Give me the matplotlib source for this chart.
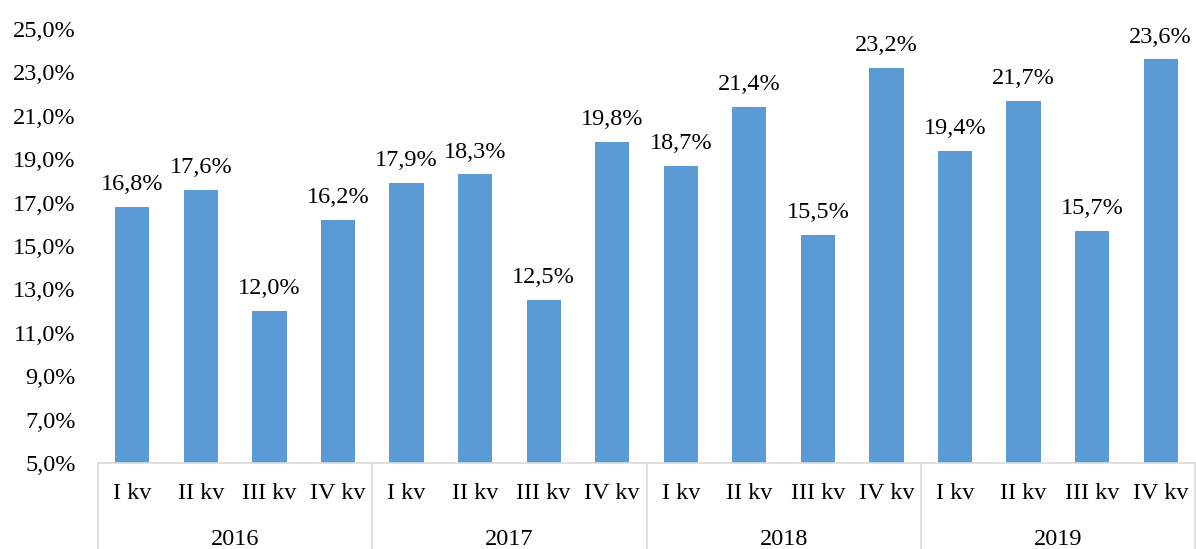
import matplotlib
matplotlib.use("Agg")
import matplotlib.pyplot as plt
from matplotlib.ticker import FuncFormatter

years = ["2016", "2017", "2018", "2019"]
quarters = ["I kv", "II kv", "III kv", "IV kv"]
values = [16.8, 17.6, 12.0, 16.2,
          17.9, 18.3, 12.5, 19.8,
          18.7, 21.4, 15.5, 23.2,
          19.4, 21.7, 15.7, 23.6]

plt.rcParams['font.family'] = ['Liberation Serif', 'DejaVu Serif']
FS = 17.5
bar_color = "#5B9BD5"
grid_color = "#D9D9D9"

fig = plt.figure(figsize=(11.96, 5.49), dpi=100)
ax = fig.add_axes([98/1196, 1 - 463/549, 1 - 98/1196 - 1/1196, (463 - 29)/549])

n = len(values)
x = list(range(n))
ax.bar(x, [v - 5.0 for v in values], bottom=5.0, width=0.5, color=bar_color, zorder=2)
for xi, v in zip(x, values):
    ax.annotate(f"{v:.1f}%".replace(".", ","), (xi, v), xytext=(0, 8.5),
                textcoords="offset points", ha="center", va="bottom",
                fontsize=FS, color="#000000")

ax.set_xlim(-0.5, n - 0.5)
ax.set_ylim(5.0, 25.0)
ax.set_yticks([5 + 2 * i for i in range(11)])
ax.yaxis.set_major_formatter(FuncFormatter(lambda v, p: f"{v:.1f}%".replace(".", ",")))
ax.tick_params(axis='y', length=0, labelsize=FS, pad=16)
ax.set_xticks([])
for s in ["top", "right", "left"]:
    ax.spines[s].set_visible(False)
ax.spines["bottom"].set_color(grid_color)
ax.spines["bottom"].set_linewidth(1.2)

# category labels
trans = ax.get_xaxis_transform()
for i in range(n):
    ax.text(i, -0.07, quarters[i % 4], transform=trans, ha="center", va="center",
            fontsize=FS, clip_on=False)
for j, y in enumerate(years):
    ax.text(4 * j + 1.5, -0.176, y, transform=trans, ha="center", va="center",
            fontsize=FS, clip_on=False)
for k in range(5):
    ax.plot([4 * k - 0.5, 4 * k - 0.5], [0, -0.2], transform=trans, color=grid_color,
            lw=1.2, clip_on=False)

fig.savefig("out.png", dpi=100)
